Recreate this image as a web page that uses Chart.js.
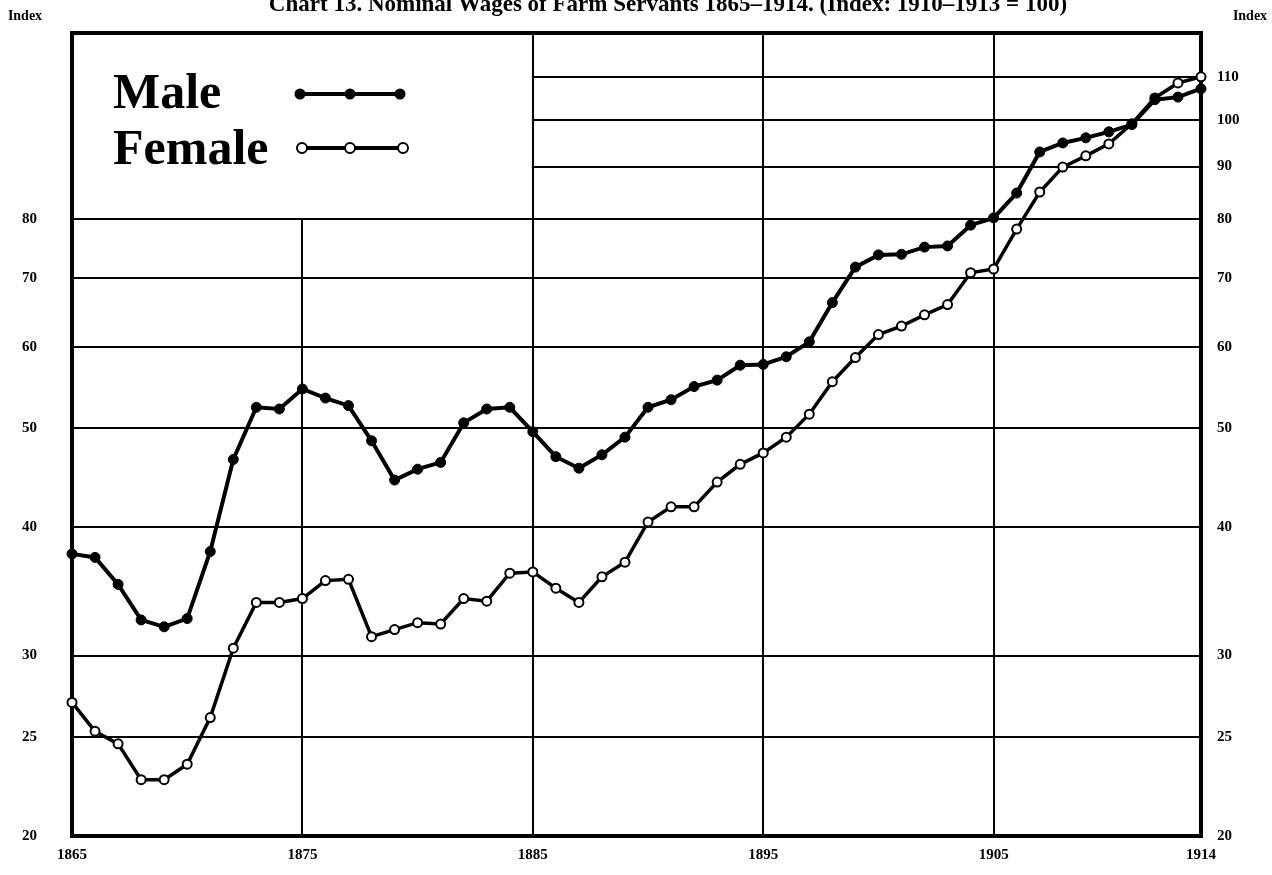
<!DOCTYPE html>
<html>
<head>
<meta charset="utf-8">
<script src="https://cdn.jsdelivr.net/npm/chart.js@4/dist/chart.umd.min.js"></script>
<style>
html,body{margin:0;padding:0;background:#fff;}
#wrap{position:relative;width:1272px;height:875px;}
</style>
</head>
<body>
<div id="wrap"><canvas id="c" width="1272" height="875"></canvas></div>
<script>
const titleText = "Chart 13. Nominal Wages of Farm Servants 1865–1914. (Index: 1910–1913 = 100)";
const axisTitle = "Index";
const years = [1865,1866,1867,1868,1869,1870,1871,1872,1873,1874,
  1875,1876,1877,1878,1879,1880,1881,1882,1883,1884,
  1885,1886,1887,1888,1889,1890,1891,1892,1893,1894,
  1895,1896,1897,1898,1899,1900,1901,1902,1903,1904,
  1905,1906,1907,1908,1909,1910,1911,1912,1913,1914];
const male = [37.7,37.4,35.2,32.5,32.0,32.6,37.9,46.6,52.4,52.2,
  54.6,53.5,52.6,48.6,44.5,45.6,46.3,50.6,52.2,52.4,
  49.6,46.9,45.7,47.1,49.0,52.4,53.3,54.9,55.7,57.6,
  57.7,58.7,60.7,66.3,71.8,73.8,73.9,75.1,75.3,78.9,
  80.2,84.8,93.0,94.9,96.0,97.3,98.9,104.6,105.2,107.2];
const female = [27.0,25.3,24.6,22.7,22.7,23.5,26.1,30.5,33.8,33.8,
  34.1,35.5,35.6,31.3,31.8,32.3,32.2,34.1,33.9,36.1,
  36.2,34.9,33.8,35.8,37.0,40.5,41.9,41.9,44.3,46.1,
  47.3,49.0,51.6,55.5,58.6,61.7,62.9,64.5,66.0,70.9,
  71.5,78.2,85.0,89.9,92.2,94.7,99.1,105.0,108.6,110.1];
const seriesNames = ["Male","Female"];
const xTicks = [1865,1875,1885,1895,1905,1914];
const xGridYears = [1875,1885,1895,1905];
const yTicksLeft = [20,25,30,40,50,60,70,80];
const yTicksRight = [20,25,30,40,50,60,70,80,90,100,110];
const legendBoxTop = 80;
const legendBoxRightYear = 1885;

const SERIF = "'Liberation Serif', 'DejaVu Serif', serif";

const decor = {
  id: 'decor',
  beforeDatasetsDraw(chart) {
    const ctx = chart.ctx, a = chart.chartArea;
    const xs = chart.scales.x, ys = chart.scales.y;
    const bx = xs.getPixelForValue(legendBoxRightYear);
    const by = ys.getPixelForValue(legendBoxTop);
    ctx.save();
    ctx.fillStyle = '#fff';
    ctx.fillRect(a.left, a.top, bx - a.left - 1, by - a.top - 1);
    ctx.strokeStyle = '#000';
    ctx.lineWidth = 4;
    ctx.strokeRect(a.left, a.top, a.right - a.left, a.bottom - a.top);
    ctx.fillStyle = '#000';
    ctx.font = "bold 50px " + SERIF;
    ctx.textBaseline = 'alphabetic';
    ctx.textAlign = 'left';
    ctx.fillText(seriesNames[0], 113, 108);
    ctx.fillText(seriesNames[1], 113, 164);
    ctx.lineWidth = 4;
    ctx.beginPath(); ctx.moveTo(300, 94); ctx.lineTo(400, 94); ctx.stroke();
    [300,350,400].forEach(x => { ctx.beginPath(); ctx.arc(x, 94, 5.5, 0, Math.PI*2); ctx.fill(); });
    ctx.beginPath(); ctx.moveTo(302, 148); ctx.lineTo(403, 148); ctx.stroke();
    ctx.lineWidth = 2;
    [302,350,403].forEach(x => { ctx.beginPath(); ctx.arc(x, 148, 5, 0, Math.PI*2); ctx.fillStyle='#fff'; ctx.fill(); ctx.strokeStyle='#000'; ctx.stroke(); });
    ctx.fillStyle = '#000';
    ctx.font = "bold 14px " + SERIF;
    ctx.textAlign = 'center';
    ctx.textBaseline = 'middle';
    ctx.fillText(axisTitle, 25, 16);
    ctx.fillText(axisTitle, 1250, 16);
    ctx.font = "bold 23px " + SERIF;
    ctx.textBaseline = 'alphabetic';
    ctx.fillText(titleText, 668, 11);
    ctx.restore();
  }
};

new Chart(document.getElementById('c'), {
  type: 'line',
  data: {
    datasets: [
      {
        label: seriesNames[0],
        data: years.map((y,i) => ({x: y, y: male[i]})),
        borderColor: '#000', borderWidth: 4,
        pointBackgroundColor: '#000', pointBorderColor: '#000',
        pointRadius: 5, pointBorderWidth: 1,
        tension: 0, clip: false
      },
      {
        label: seriesNames[1],
        data: years.map((y,i) => ({x: y, y: female[i]})),
        borderColor: '#000', borderWidth: 3.5,
        pointBackgroundColor: '#fff', pointBorderColor: '#000',
        pointRadius: 4.5, pointBorderWidth: 2,
        tension: 0, clip: false
      }
    ]
  },
  options: {
    responsive: false,
    animation: false,
    events: [],
    layout: { padding: { top: 33, left: 22, right: 0, bottom: 0 } },
    plugins: { legend: { display: false }, title: { display: false }, tooltip: { enabled: false } },
    scales: {
      x: {
        type: 'linear', min: 1865, max: 1914,
        afterBuildTicks: s => { s.ticks = xTicks.map(v => ({value: v})); },
        afterFit: s => { s.height = 39; },
        border: { display: false },
        grid: {
          drawTicks: false,
          color: c => xGridYears.includes(c.tick && c.tick.value) ? '#000' : 'rgba(0,0,0,0)',
          lineWidth: 2
        },
        ticks: { color: '#000', font: { family: SERIF, size: 15, weight: 'bold' }, padding: 10, maxRotation: 0,
          callback: v => String(v) }
      },
      y: {
        type: 'logarithmic', position: 'left', min: 20, max: 121.5,
        afterBuildTicks: s => { s.ticks = yTicksLeft.map(v => ({value: v})); },
        afterFit: s => { s.width = 50; },
        border: { display: false },
        grid: { display: false, drawTicks: false },
        ticks: { color: '#000', font: { family: SERIF, size: 15, weight: 'bold' }, padding: 4, crossAlign: 'far',
          callback: v => String(v) }
      },
      y2: {
        type: 'logarithmic', position: 'right', min: 20, max: 121.5,
        afterBuildTicks: s => { s.ticks = yTicksRight.map(v => ({value: v})); },
        afterFit: s => { s.width = 1272 - 1201; },
        border: { display: false },
        grid: { drawTicks: false, color: '#000', lineWidth: 2 },
        ticks: { color: '#000', font: { family: SERIF, size: 15, weight: 'bold' }, padding: 16,
          callback: v => String(v) }
      }
    }
  },
  plugins: [decor]
});
</script>
</body>
</html>
